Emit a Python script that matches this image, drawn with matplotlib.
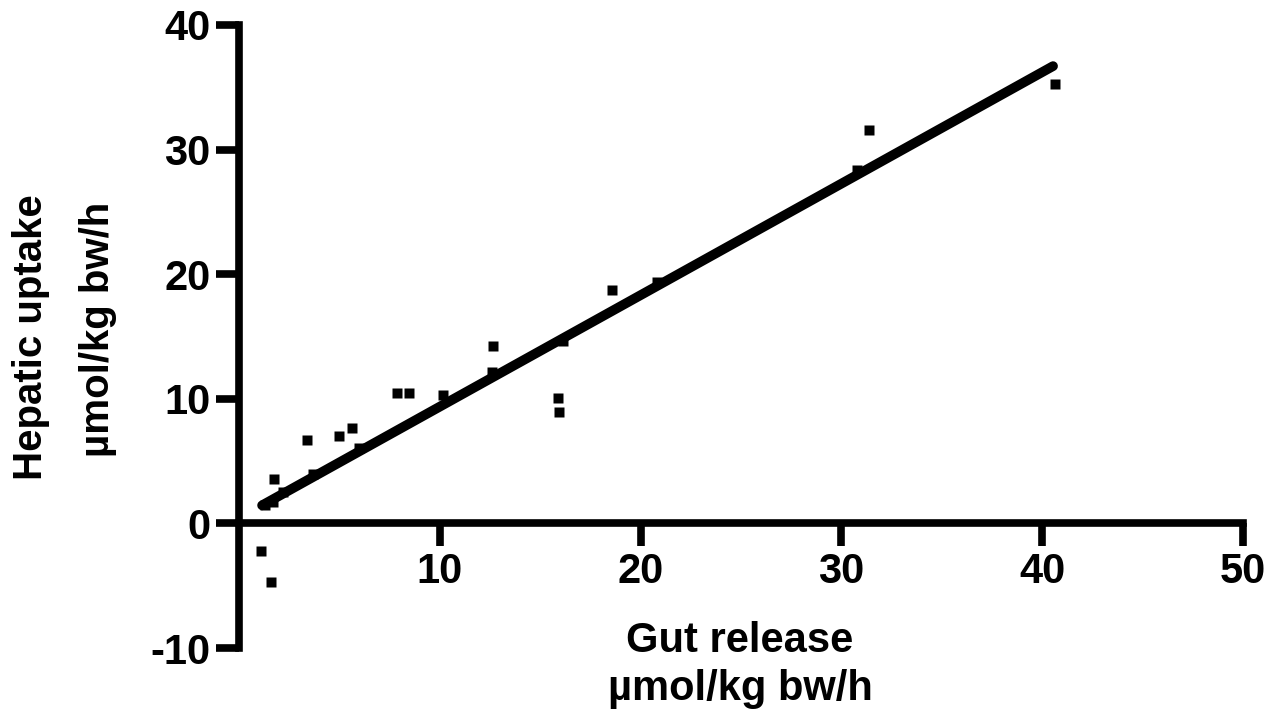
import matplotlib
matplotlib.use("Agg")
import matplotlib.pyplot as plt

# Data
gut_release = [1.08, 1.58, 1.30, 1.70, 1.76, 2.19, 3.40, 3.69, 4.98, 5.61, 5.99,
               7.88, 8.47, 10.14, 12.58, 12.66, 15.90, 15.95, 16.15, 18.56,
               20.80, 30.76, 31.39, 40.64]
hepatic_uptake = [-2.23, -4.72, 1.45, 1.70, 3.60, 2.50, 6.68, 4.00, 7.00, 7.67, 6.09,
                  10.49, 10.49, 10.30, 12.18, 14.20, 10.04, 8.91, 14.60, 18.76,
                  19.35, 28.35, 31.59, 35.27]
fit_x = [1.15, 40.54]
fit_y = [1.45, 36.70]

x_ticks = [10, 20, 30, 40, 50]
y_ticks = [-10, 0, 10, 20, 30, 40]

FONT = ['Liberation Sans', 'DejaVu Sans']
plt.rcParams['font.family'] = FONT

fig = plt.figure(figsize=(12.74, 7.17), dpi=100)
ax = fig.add_axes([239 / 1274, 1 - 648 / 717, (1243 - 239) / 1274, (648 - 25) / 717])

ax.plot(fit_x, fit_y, color='black', lw=7, solid_capstyle='round', zorder=3)
ax.plot(gut_release, hepatic_uptake, linestyle='none', marker='s', ms=7.6,
        mfc='black', mec='none', zorder=4, clip_on=False)

ax.set_xlim(0, 50)
ax.set_ylim(-10, 40)
ax.spines['top'].set_visible(False)
ax.spines['right'].set_visible(False)
ax.spines['bottom'].set_position(('data', 0))
for s in ('left', 'bottom'):
    ax.spines[s].set_linewidth(5.5)
    ax.spines[s].set_capstyle('projecting')

ax.set_xticks(x_ticks)
ax.set_yticks(y_ticks)
ax.set_xticklabels([str(t) for t in x_ticks])
ax.set_yticklabels([str(t) for t in y_ticks])
ax.tick_params(axis='both', direction='out', length=16.5, width=5.5,
               labelsize=30)
ax.tick_params(axis='x', pad=4)
ax.tick_params(axis='y', pad=4)
for lab in ax.get_xticklabels() + ax.get_yticklabels():
    lab.set_fontweight('bold')
for t in ax.xaxis.get_major_ticks():
    t.tick1line.set_solid_capstyle('round')
for t in ax.yaxis.get_major_ticks():
    t.tick1line.set_solid_capstyle('round')

# Axis titles
fig.text(740 / 1274, 1 - 652 / 717, 'Gut release', ha='center', va='baseline',
         fontsize=30, fontweight='bold')
fig.text(740 / 1274, 1 - 700 / 717, '\u00b5mol/kg bw/h', ha='center', va='baseline',
         fontsize=30, fontweight='bold')
fig.text(31 / 1274, 1 - 337 / 717, 'Hepatic uptake', rotation=90, ha='center',
         va='center', fontsize=29, fontweight='bold')
fig.text(98 / 1274, 1 - 329 / 717, '\u00b5mol/kg bw/h', rotation=90, ha='center',
         va='center', fontsize=29, fontweight='bold')

fig.savefig('out.png', dpi=100, facecolor='white')
